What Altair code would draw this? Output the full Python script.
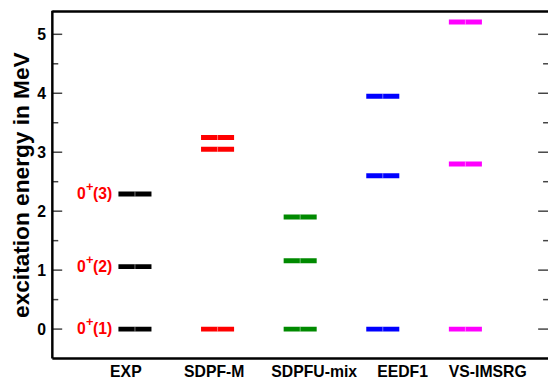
import altair as alt
import pandas as pd

# ---- data ----
models = ["EXP", "SDPF-M", "SDPFU-mix", "EEDF1", "VS-IMSRG"]
model_pos = [1, 2, 3, 4, 5]
model_colors = ["#000000", "#ff0000", "#008a00", "#0000ff", "#ff00ff"]
exp_levels = [0.0, 1.06, 2.29]
sdpfm_levels = [0.0, 3.05, 3.25]
sdpfu_levels = [0.0, 1.16, 1.90]
eedf1_levels = [0.0, 2.60, 3.95]
vsimsrg_levels = [0.0, 2.80, 5.21]
exp_states = ["(1)", "(2)", "(3)"]
label_pos = [0.89, 1.96, 3.17, 4.24, 5.27]
major_ticks = [0, 1, 2, 3, 4, 5]
minor_ticks = [0.5, 1.5, 2.5, 3.5, 4.5]

all_levels = [exp_levels, sdpfm_levels, sdpfu_levels, eedf1_levels, vsimsrg_levels]
rows = []
for m, p, lv in zip(models, model_pos, all_levels):
    for e in lv:
        rows.append({"model": m, "pos": p, "E": e})
df = pd.DataFrame(rows)
df_exp = pd.DataFrame({"pos": [model_pos[0]] * 3, "E": exp_levels, "state": exp_states})
df_lab = pd.DataFrame({"name": models, "lx": label_pos})
df_major = pd.DataFrame({"v": major_ticks})
df_minor = pd.DataFrame({"v": minor_ticks})
dummy = pd.DataFrame({"d": [0]})

W, H = 503, 353
FONT = "Liberation Sans"
xs = alt.Scale(domain=[0, 6], nice=False, zero=False)
ys = alt.Scale(domain=[-0.5, 5.4], nice=False, zero=False)

yaxis = alt.Axis(
    values=major_ticks, format="d", grid=False, domain=False, ticks=False, tickSize=0,
    labelFont=FONT, labelFontSize=16, labelFontWeight="bold", labelColor="black",
    labelPadding=7, title="excitation energy in MeV", titleFont=FONT,
    titleFontSize=23, titleFontWeight="bold", titleColor="black", titlePadding=3,
)

levels = (
    alt.Chart(df)
    .transform_calculate(x1="datum.pos - 0.2", x2="datum.pos + 0.2")
    .mark_rule(strokeWidth=5)
    .encode(
        x=alt.X("x1:Q", scale=xs, axis=None),
        x2="x2:Q",
        y=alt.Y("E:Q", scale=ys, axis=yaxis),
        color=alt.Color("model:N", scale=alt.Scale(domain=models, range=model_colors), legend=None),
    )
)

divider = (
    alt.Chart(df)
    .mark_tick(orient="vertical", size=5, thickness=1, color="white", opacity=0.45)
    .encode(x=alt.X("pos:Q", scale=xs), y=alt.Y("E:Q", scale=ys))
)

txt = dict(font=FONT, fontWeight="bold", color="#ff0000", align="right", baseline="middle")
lab0 = alt.Chart(df_exp).mark_text(fontSize=16, dx=-50, text="0", **txt).encode(
    x=alt.X("pos:Q", scale=xs), y=alt.Y("E:Q", scale=ys))
labp = alt.Chart(df_exp).mark_text(fontSize=13, dx=-42, dy=-7, text="+", **txt).encode(
    x=alt.X("pos:Q", scale=xs), y=alt.Y("E:Q", scale=ys))
labs = alt.Chart(df_exp).mark_text(fontSize=16, dx=-23, **txt).encode(
    x=alt.X("pos:Q", scale=xs), y=alt.Y("E:Q", scale=ys), text="state:N")

xlabels = alt.Chart(df_lab).mark_text(
    font=FONT, fontSize=16, fontWeight="bold", color="black", align="center", baseline="middle"
).encode(x=alt.X("lx:Q", scale=xs), y=alt.value(H + 14), text="name:N")

tick_style = dict(color="#444444", strokeWidth=1.5)
lmaj = alt.Chart(df_major).mark_rule(**tick_style).encode(
    y=alt.Y("v:Q", scale=ys), x=alt.value(0), x2=alt.value(10))
lmin = alt.Chart(df_minor).mark_rule(**tick_style).encode(
    y=alt.Y("v:Q", scale=ys), x=alt.value(0), x2=alt.value(6))
rmaj = alt.Chart(df_major).mark_rule(**tick_style).encode(
    y=alt.Y("v:Q", scale=ys), x=alt.value(W - 10), x2=alt.value(W))
rmin = alt.Chart(df_minor).mark_rule(**tick_style).encode(
    y=alt.Y("v:Q", scale=ys), x=alt.value(W - 5), x2=alt.value(W))

frame = dict(color="black", strokeWidth=2.5)
fl = alt.Chart(dummy).mark_rule(**frame).encode(x=alt.value(0), y=alt.value(0), y2=alt.value(H))
ft = alt.Chart(dummy).mark_rule(**frame).encode(x=alt.value(0), x2=alt.value(W), y=alt.value(0.8))
fb = alt.Chart(dummy).mark_rule(**frame).encode(x=alt.value(0), x2=alt.value(W), y=alt.value(H))

chart = (
    alt.layer(lmaj, lmin, rmaj, rmin, levels, divider, lab0, labp, labs, xlabels, fl, ft, fb)
    .properties(
        width=W, height=H,
        autosize=alt.AutoSizeParams(type="none"),
        padding={"left": 45, "top": 0, "right": 0, "bottom": 20},
    )
    .configure_view(stroke=None)
)

chart.save("out.html", embed_options={"renderer": "svg", "actions": False})
